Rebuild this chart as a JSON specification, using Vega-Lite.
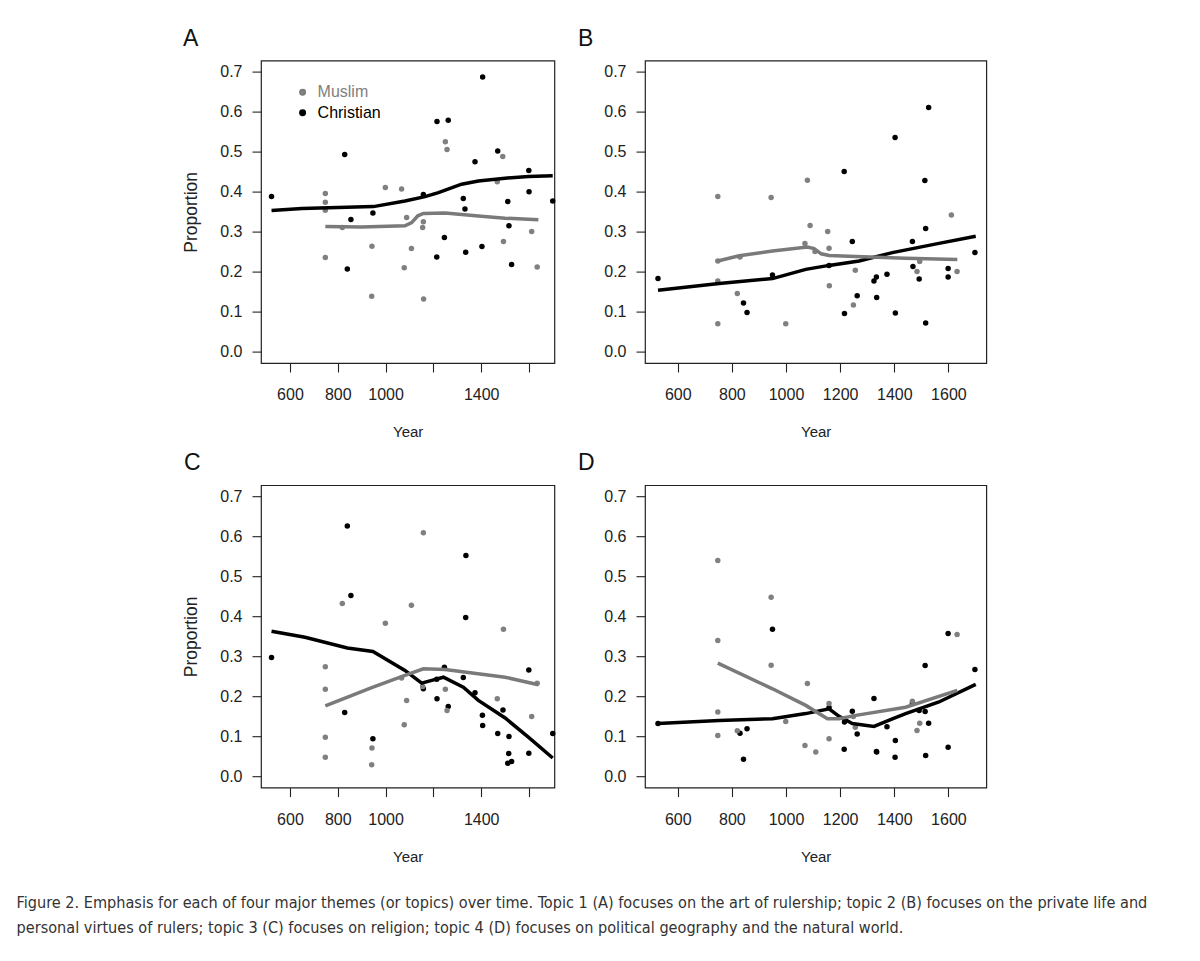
{
  "$schema": "https://vega.github.io/schema/vega-lite/v6.json",
  "background": "white",
  "padding": {"left": 16, "top": 26.6, "right": 10, "bottom": 10},
  "config": {
    "font": "Liberation Sans",
    "view": {"stroke": "#222", "strokeWidth": 1.2},
    "axis": {"domain": false, "grid": false, "tickSize": 9, "tickColor": "#222", "tickWidth": 1.1, "labelFontSize": 16, "labelColor": "#222", "titleFontSize": 15, "titleFontWeight": "normal", "titleColor": "#222", "labelFont": "Liberation Sans", "titleFont": "Liberation Sans"},
    "axisX": {"labelPadding": 14.5, "titlePadding": 22, "labelAngle": 0},
    "axisY": {"labelPadding": 10, "titlePadding": 19.6, "titleFontSize": 17.5},
    "title": {"font": "Liberation Sans", "fontSize": 23, "fontWeight": "normal", "color": "#111", "anchor": "start", "frame": "group", "offset": 9.7, "baseline": "alphabetic"}
  },
  "datasets": {
    "pts": [
      {"p":"A","g":"Christian","year":523,"prop":0.388},{"p":"A","g":"Christian","year":829,"prop":0.493},{"p":"A","g":"Christian","year":840,"prop":0.207},{"p":"A","g":"Christian","year":855,"prop":0.331},{"p":"A","g":"Christian","year":947,"prop":0.347},{"p":"A","g":"Christian","year":1158,"prop":0.393},{"p":"A","g":"Christian","year":1215,"prop":0.576},{"p":"A","g":"Christian","year":1262,"prop":0.579},{"p":"A","g":"Christian","year":1214,"prop":0.237},{"p":"A","g":"Christian","year":1246,"prop":0.286},{"p":"A","g":"Christian","year":1325,"prop":0.383},{"p":"A","g":"Christian","year":1332,"prop":0.357},{"p":"A","g":"Christian","year":1335,"prop":0.249},{"p":"A","g":"Christian","year":1374,"prop":0.475},{"p":"A","g":"Christian","year":1406,"prop":0.687},{"p":"A","g":"Christian","year":1403,"prop":0.263},{"p":"A","g":"Christian","year":1469,"prop":0.502},{"p":"A","g":"Christian","year":1511,"prop":0.376},{"p":"A","g":"Christian","year":1516,"prop":0.315},{"p":"A","g":"Christian","year":1527,"prop":0.218},{"p":"A","g":"Christian","year":1599,"prop":0.453},{"p":"A","g":"Christian","year":1600,"prop":0.4},{"p":"A","g":"Christian","year":1699,"prop":0.377},
      {"p":"A","g":"Muslim","year":748,"prop":0.396},{"p":"A","g":"Muslim","year":748,"prop":0.374},{"p":"A","g":"Muslim","year":748,"prop":0.354},{"p":"A","g":"Muslim","year":748,"prop":0.236},{"p":"A","g":"Muslim","year":819,"prop":0.311},{"p":"A","g":"Muslim","year":943,"prop":0.264},{"p":"A","g":"Muslim","year":942,"prop":0.139},{"p":"A","g":"Muslim","year":999,"prop":0.411},{"p":"A","g":"Muslim","year":1067,"prop":0.407},{"p":"A","g":"Muslim","year":1088,"prop":0.336},{"p":"A","g":"Muslim","year":1078,"prop":0.21},{"p":"A","g":"Muslim","year":1108,"prop":0.258},{"p":"A","g":"Muslim","year":1158,"prop":0.325},{"p":"A","g":"Muslim","year":1155,"prop":0.311},{"p":"A","g":"Muslim","year":1159,"prop":0.132},{"p":"A","g":"Muslim","year":1250,"prop":0.525},{"p":"A","g":"Muslim","year":1257,"prop":0.506},{"p":"A","g":"Muslim","year":1467,"prop":0.425},{"p":"A","g":"Muslim","year":1490,"prop":0.488},{"p":"A","g":"Muslim","year":1493,"prop":0.276},{"p":"A","g":"Muslim","year":1611,"prop":0.301},{"p":"A","g":"Muslim","year":1634,"prop":0.212},

      {"p":"B","g":"Christian","year":527,"prop":0.183},{"p":"B","g":"Christian","year":843,"prop":0.122},{"p":"B","g":"Christian","year":856,"prop":0.098},{"p":"B","g":"Christian","year":950,"prop":0.192},{"p":"B","g":"Christian","year":1159,"prop":0.216},{"p":"B","g":"Christian","year":1215,"prop":0.451},{"p":"B","g":"Christian","year":1245,"prop":0.276},{"p":"B","g":"Christian","year":1216,"prop":0.096},{"p":"B","g":"Christian","year":1263,"prop":0.14},{"p":"B","g":"Christian","year":1325,"prop":0.177},{"p":"B","g":"Christian","year":1334,"prop":0.187},{"p":"B","g":"Christian","year":1335,"prop":0.136},{"p":"B","g":"Christian","year":1373,"prop":0.194},{"p":"B","g":"Christian","year":1403,"prop":0.536},{"p":"B","g":"Christian","year":1404,"prop":0.097},{"p":"B","g":"Christian","year":1467,"prop":0.276},{"p":"B","g":"Christian","year":1469,"prop":0.213},{"p":"B","g":"Christian","year":1492,"prop":0.182},{"p":"B","g":"Christian","year":1513,"prop":0.428},{"p":"B","g":"Christian","year":1516,"prop":0.308},{"p":"B","g":"Christian","year":1527,"prop":0.611},{"p":"B","g":"Christian","year":1516,"prop":0.072},{"p":"B","g":"Christian","year":1599,"prop":0.208},{"p":"B","g":"Christian","year":1599,"prop":0.187},{"p":"B","g":"Christian","year":1698,"prop":0.248},
      {"p":"B","g":"Muslim","year":748,"prop":0.388},{"p":"B","g":"Muslim","year":748,"prop":0.227},{"p":"B","g":"Muslim","year":748,"prop":0.177},{"p":"B","g":"Muslim","year":748,"prop":0.07},{"p":"B","g":"Muslim","year":830,"prop":0.237},{"p":"B","g":"Muslim","year":820,"prop":0.146},{"p":"B","g":"Muslim","year":945,"prop":0.386},{"p":"B","g":"Muslim","year":999,"prop":0.07},{"p":"B","g":"Muslim","year":1079,"prop":0.429},{"p":"B","g":"Muslim","year":1089,"prop":0.316},{"p":"B","g":"Muslim","year":1070,"prop":0.271},{"p":"B","g":"Muslim","year":1107,"prop":0.251},{"p":"B","g":"Muslim","year":1154,"prop":0.301},{"p":"B","g":"Muslim","year":1159,"prop":0.259},{"p":"B","g":"Muslim","year":1160,"prop":0.165},{"p":"B","g":"Muslim","year":1256,"prop":0.204},{"p":"B","g":"Muslim","year":1249,"prop":0.117},{"p":"B","g":"Muslim","year":1484,"prop":0.201},{"p":"B","g":"Muslim","year":1494,"prop":0.226},{"p":"B","g":"Muslim","year":1611,"prop":0.342},{"p":"B","g":"Muslim","year":1632,"prop":0.201},

      {"p":"C","g":"Christian","year":523,"prop":0.297},{"p":"C","g":"Christian","year":840,"prop":0.626},{"p":"C","g":"Christian","year":855,"prop":0.452},{"p":"C","g":"Christian","year":829,"prop":0.16},{"p":"C","g":"Christian","year":947,"prop":0.094},{"p":"C","g":"Christian","year":1158,"prop":0.219},{"p":"C","g":"Christian","year":1214,"prop":0.243},{"p":"C","g":"Christian","year":1215,"prop":0.194},{"p":"C","g":"Christian","year":1246,"prop":0.273},{"p":"C","g":"Christian","year":1262,"prop":0.175},{"p":"C","g":"Christian","year":1336,"prop":0.552},{"p":"C","g":"Christian","year":1335,"prop":0.397},{"p":"C","g":"Christian","year":1325,"prop":0.247},{"p":"C","g":"Christian","year":1374,"prop":0.209},{"p":"C","g":"Christian","year":1405,"prop":0.153},{"p":"C","g":"Christian","year":1406,"prop":0.127},{"p":"C","g":"Christian","year":1469,"prop":0.107},{"p":"C","g":"Christian","year":1491,"prop":0.166},{"p":"C","g":"Christian","year":1516,"prop":0.1},{"p":"C","g":"Christian","year":1515,"prop":0.057},{"p":"C","g":"Christian","year":1511,"prop":0.033},{"p":"C","g":"Christian","year":1527,"prop":0.037},{"p":"C","g":"Christian","year":1599,"prop":0.266},{"p":"C","g":"Christian","year":1599,"prop":0.058},{"p":"C","g":"Christian","year":1699,"prop":0.107},
      {"p":"C","g":"Muslim","year":748,"prop":0.274},{"p":"C","g":"Muslim","year":748,"prop":0.218},{"p":"C","g":"Muslim","year":748,"prop":0.098},{"p":"C","g":"Muslim","year":748,"prop":0.048},{"p":"C","g":"Muslim","year":819,"prop":0.432},{"p":"C","g":"Muslim","year":943,"prop":0.071},{"p":"C","g":"Muslim","year":942,"prop":0.029},{"p":"C","g":"Muslim","year":999,"prop":0.383},{"p":"C","g":"Muslim","year":1067,"prop":0.246},{"p":"C","g":"Muslim","year":1088,"prop":0.19},{"p":"C","g":"Muslim","year":1078,"prop":0.129},{"p":"C","g":"Muslim","year":1108,"prop":0.428},{"p":"C","g":"Muslim","year":1158,"prop":0.609},{"p":"C","g":"Muslim","year":1155,"prop":0.225},{"p":"C","g":"Muslim","year":1250,"prop":0.218},{"p":"C","g":"Muslim","year":1257,"prop":0.165},{"p":"C","g":"Muslim","year":1467,"prop":0.194},{"p":"C","g":"Muslim","year":1493,"prop":0.368},{"p":"C","g":"Muslim","year":1611,"prop":0.15},{"p":"C","g":"Muslim","year":1634,"prop":0.233},

      {"p":"D","g":"Christian","year":527,"prop":0.132},{"p":"D","g":"Christian","year":830,"prop":0.108},{"p":"D","g":"Christian","year":856,"prop":0.119},{"p":"D","g":"Christian","year":843,"prop":0.043},{"p":"D","g":"Christian","year":950,"prop":0.368},{"p":"D","g":"Christian","year":1159,"prop":0.172},{"p":"D","g":"Christian","year":1215,"prop":0.068},{"p":"D","g":"Christian","year":1216,"prop":0.136},{"p":"D","g":"Christian","year":1245,"prop":0.163},{"p":"D","g":"Christian","year":1263,"prop":0.106},{"p":"D","g":"Christian","year":1325,"prop":0.195},{"p":"D","g":"Christian","year":1334,"prop":0.0625},{"p":"D","g":"Christian","year":1335,"prop":0.061},{"p":"D","g":"Christian","year":1373,"prop":0.124},{"p":"D","g":"Christian","year":1404,"prop":0.09},{"p":"D","g":"Christian","year":1403,"prop":0.048},{"p":"D","g":"Christian","year":1467,"prop":0.182},{"p":"D","g":"Christian","year":1492,"prop":0.165},{"p":"D","g":"Christian","year":1514,"prop":0.2775},{"p":"D","g":"Christian","year":1516,"prop":0.0525},{"p":"D","g":"Christian","year":1527,"prop":0.133},{"p":"D","g":"Christian","year":1514,"prop":0.1625},{"p":"D","g":"Christian","year":1599,"prop":0.357},{"p":"D","g":"Christian","year":1599,"prop":0.073},{"p":"D","g":"Christian","year":1698,"prop":0.2675},
      {"p":"D","g":"Muslim","year":748,"prop":0.54},{"p":"D","g":"Muslim","year":748,"prop":0.34},{"p":"D","g":"Muslim","year":748,"prop":0.161},{"p":"D","g":"Muslim","year":748,"prop":0.1025},{"p":"D","g":"Muslim","year":820,"prop":0.114},{"p":"D","g":"Muslim","year":945,"prop":0.448},{"p":"D","g":"Muslim","year":945,"prop":0.278},{"p":"D","g":"Muslim","year":999,"prop":0.137},{"p":"D","g":"Muslim","year":1070,"prop":0.077},{"p":"D","g":"Muslim","year":1079,"prop":0.2325},{"p":"D","g":"Muslim","year":1110,"prop":0.061},{"p":"D","g":"Muslim","year":1159,"prop":0.182},{"p":"D","g":"Muslim","year":1159,"prop":0.094},{"p":"D","g":"Muslim","year":1249,"prop":0.15},{"p":"D","g":"Muslim","year":1256,"prop":0.123},{"p":"D","g":"Muslim","year":1467,"prop":0.188},{"p":"D","g":"Muslim","year":1484,"prop":0.115},{"p":"D","g":"Muslim","year":1494,"prop":0.133},{"p":"D","g":"Muslim","year":1632,"prop":0.355}
    ],
    "lns": [
      {"p":"A","g":"Christian","year":523,"prop":0.353},{"p":"A","g":"Christian","year":650,"prop":0.358},{"p":"A","g":"Christian","year":800,"prop":0.361},{"p":"A","g":"Christian","year":949,"prop":0.363},{"p":"A","g":"Christian","year":1081,"prop":0.377},{"p":"A","g":"Christian","year":1165,"prop":0.388},{"p":"A","g":"Christian","year":1221,"prop":0.398},{"p":"A","g":"Christian","year":1318,"prop":0.419},{"p":"A","g":"Christian","year":1388,"prop":0.427},{"p":"A","g":"Christian","year":1500,"prop":0.434},{"p":"A","g":"Christian","year":1597,"prop":0.438},{"p":"A","g":"Christian","year":1699,"prop":0.44},
      {"p":"A","g":"Muslim","year":748,"prop":0.313},{"p":"A","g":"Muslim","year":900,"prop":0.312},{"p":"A","g":"Muslim","year":1081,"prop":0.315},{"p":"A","g":"Muslim","year":1109,"prop":0.323},{"p":"A","g":"Muslim","year":1135,"prop":0.34},{"p":"A","g":"Muslim","year":1158,"prop":0.346},{"p":"A","g":"Muslim","year":1249,"prop":0.347},{"p":"A","g":"Muslim","year":1400,"prop":0.339},{"p":"A","g":"Muslim","year":1500,"prop":0.334},{"p":"A","g":"Muslim","year":1639,"prop":0.33},
      {"p":"B","g":"Christian","year":527,"prop":0.154},{"p":"B","g":"Christian","year":753,"prop":0.171},{"p":"B","g":"Christian","year":950,"prop":0.183},{"p":"B","g":"Christian","year":1073,"prop":0.206},{"p":"B","g":"Christian","year":1159,"prop":0.216},{"p":"B","g":"Christian","year":1270,"prop":0.227},{"p":"B","g":"Christian","year":1393,"prop":0.248},{"p":"B","g":"Christian","year":1565,"prop":0.271},{"p":"B","g":"Christian","year":1701,"prop":0.289},
      {"p":"B","g":"Muslim","year":748,"prop":0.227},{"p":"B","g":"Muslim","year":827,"prop":0.24},{"p":"B","g":"Muslim","year":950,"prop":0.252},{"p":"B","g":"Muslim","year":1079,"prop":0.262},{"p":"B","g":"Muslim","year":1104,"prop":0.258},{"p":"B","g":"Muslim","year":1130,"prop":0.245},{"p":"B","g":"Muslim","year":1159,"prop":0.241},{"p":"B","g":"Muslim","year":1258,"prop":0.238},{"p":"B","g":"Muslim","year":1442,"prop":0.234},{"p":"B","g":"Muslim","year":1633,"prop":0.231},
      {"p":"C","g":"Christian","year":523,"prop":0.363},{"p":"C","g":"Christian","year":663,"prop":0.348},{"p":"C","g":"Christian","year":840,"prop":0.321},{"p":"C","g":"Christian","year":947,"prop":0.3125},{"p":"C","g":"Christian","year":1081,"prop":0.265},{"p":"C","g":"Christian","year":1151,"prop":0.233},{"p":"C","g":"Christian","year":1193,"prop":0.24},{"p":"C","g":"Christian","year":1242,"prop":0.248},{"p":"C","g":"Christian","year":1325,"prop":0.223},{"p":"C","g":"Christian","year":1388,"prop":0.19},{"p":"C","g":"Christian","year":1500,"prop":0.146},{"p":"C","g":"Christian","year":1597,"prop":0.098},{"p":"C","g":"Christian","year":1699,"prop":0.046},
      {"p":"C","g":"Muslim","year":748,"prop":0.176},{"p":"C","g":"Muslim","year":942,"prop":0.222},{"p":"C","g":"Muslim","year":1081,"prop":0.2525},{"p":"C","g":"Muslim","year":1158,"prop":0.269},{"p":"C","g":"Muslim","year":1249,"prop":0.2675},{"p":"C","g":"Muslim","year":1500,"prop":0.248},{"p":"C","g":"Muslim","year":1639,"prop":0.229},
      {"p":"D","g":"Christian","year":527,"prop":0.132},{"p":"D","g":"Christian","year":753,"prop":0.14},{"p":"D","g":"Christian","year":950,"prop":0.144},{"p":"D","g":"Christian","year":1073,"prop":0.157},{"p":"D","g":"Christian","year":1159,"prop":0.169},{"p":"D","g":"Christian","year":1196,"prop":0.15},{"p":"D","g":"Christian","year":1245,"prop":0.132},{"p":"D","g":"Christian","year":1325,"prop":0.125},{"p":"D","g":"Christian","year":1393,"prop":0.144},{"p":"D","g":"Christian","year":1442,"prop":0.157},{"p":"D","g":"Christian","year":1492,"prop":0.169},{"p":"D","g":"Christian","year":1565,"prop":0.186},{"p":"D","g":"Christian","year":1701,"prop":0.23},
      {"p":"D","g":"Muslim","year":748,"prop":0.283},{"p":"D","g":"Muslim","year":950,"prop":0.219},{"p":"D","g":"Muslim","year":1073,"prop":0.1775},{"p":"D","g":"Muslim","year":1153,"prop":0.144},{"p":"D","g":"Muslim","year":1196,"prop":0.144},{"p":"D","g":"Muslim","year":1258,"prop":0.1525},{"p":"D","g":"Muslim","year":1442,"prop":0.173},{"p":"D","g":"Muslim","year":1633,"prop":0.215}
    ]
  },
  "title": {
    "text": ["Figure 2. Emphasis for each of four major themes (or topics) over time. Topic 1 (A) focuses on the art of rulership; topic 2 (B) focuses on the private life and", "personal virtues of rulers; topic 3 (C) focuses on religion; topic 4 (D) focuses on political geography and the natural world."],
    "orient": "bottom", "anchor": "start", "frame": "bounds", "dx": -165, "offset": 30.5,
    "fontSize": 16.15, "font": "Liberation Sans Narrow, DejaVu Sans Condensed, sans-serif", "fontWeight": "normal",
    "color": "#333", "lineHeight": 25, "baseline": "top"
  },
  "columns": 2,
  "bounds": "flush",
  "spacing": {"row": 121.6, "column": 90},
  "resolve": {"scale": {"color": "independent", "stroke": "independent", "x": "independent", "y": "independent"}, "legend": {"color": "independent", "stroke": "independent"}},
  "concat": [
    {
      "width": 293.4, "height": 302.4,
      "title": {"text": "A", "dx": -78},
      "layer": [
        {"data": {"name": "pts"}, "transform": [{"filter": "datum.p == 'A'"}],
         "mark": {"type": "circle", "size": 30, "opacity": 1},
         "encoding": {
           "x": {"field": "year", "type": "quantitative", "scale": {"domain": [479, 1706], "nice": false, "zero": false}, "axis": {"values": [600, 800, 1000, 1200, 1400, 1600], "format": "d", "labelExpr": "datum.value == 1200 || datum.value == 1600 ? '' : datum.label", "title": "Year"}},
           "y": {"field": "prop", "type": "quantitative", "scale": {"domain": [-0.028, 0.728], "nice": false, "zero": false}, "axis": {"values": [0, 0.1, 0.2, 0.3, 0.4, 0.5, 0.6, 0.7], "format": ".1f", "title": "Proportion"}},
           "color": {"field": "g", "type": "nominal", "scale": {"domain": ["Muslim", "Christian"], "range": ["#808080", "#000000"]},
             "legend": {"title": null, "orient": "none", "legendX": 33.6, "legendY": 23.7, "padding": 0, "symbolType": "circle", "symbolSize": 30, "labelFontSize": 16, "labelFont": "Liberation Sans", "labelOffset": 7, "rowPadding": 4.5, "labelColor": {"expr": "datum.value == 'Muslim' ? '#808080' : '#000000'"}}}
         }},
        {"data": {"name": "lns"}, "transform": [{"filter": "datum.p == 'A'"}],
         "mark": {"type": "line", "strokeWidth": 3.5},
         "encoding": {
           "x": {"field": "year", "type": "quantitative"},
           "y": {"field": "prop", "type": "quantitative"},
           "stroke": {"field": "g", "type": "nominal", "scale": {"domain": ["Muslim", "Christian"], "range": ["#7a7a7a", "#000000"]}, "legend": null}
         }}
      ]
    },
    {
      "width": 341.3, "height": 302.4,
      "title": {"text": "B", "dx": -67},
      "layer": [
        {"data": {"name": "pts"}, "transform": [{"filter": "datum.p == 'B'"}],
         "mark": {"type": "circle", "size": 30, "opacity": 1},
         "encoding": {
           "x": {"field": "year", "type": "quantitative", "scale": {"domain": [479, 1740], "nice": false, "zero": false}, "axis": {"values": [600, 800, 1000, 1200, 1400, 1600], "format": "d", "title": "Year"}},
           "y": {"field": "prop", "type": "quantitative", "scale": {"domain": [-0.028, 0.728], "nice": false, "zero": false}, "axis": {"values": [0, 0.1, 0.2, 0.3, 0.4, 0.5, 0.6, 0.7], "format": ".1f", "title": null}},
           "color": {"field": "g", "type": "nominal", "scale": {"domain": ["Muslim", "Christian"], "range": ["#808080", "#000000"]}, "legend": null}
         }},
        {"data": {"name": "lns"}, "transform": [{"filter": "datum.p == 'B'"}],
         "mark": {"type": "line", "strokeWidth": 3.5},
         "encoding": {
           "x": {"field": "year", "type": "quantitative"},
           "y": {"field": "prop", "type": "quantitative"},
           "stroke": {"field": "g", "type": "nominal", "scale": {"domain": ["Muslim", "Christian"], "range": ["#7a7a7a", "#000000"]}, "legend": null}
         }}
      ]
    },
    {
      "width": 293.4, "height": 302.4,
      "title": {"text": "C", "dx": -77},
      "layer": [
        {"data": {"name": "pts"}, "transform": [{"filter": "datum.p == 'C'"}],
         "mark": {"type": "circle", "size": 30, "opacity": 1},
         "encoding": {
           "x": {"field": "year", "type": "quantitative", "scale": {"domain": [479, 1706], "nice": false, "zero": false}, "axis": {"values": [600, 800, 1000, 1200, 1400, 1600], "format": "d", "labelExpr": "datum.value == 1200 || datum.value == 1600 ? '' : datum.label", "title": "Year"}},
           "y": {"field": "prop", "type": "quantitative", "scale": {"domain": [-0.028, 0.728], "nice": false, "zero": false}, "axis": {"values": [0, 0.1, 0.2, 0.3, 0.4, 0.5, 0.6, 0.7], "format": ".1f", "title": "Proportion"}},
           "color": {"field": "g", "type": "nominal", "scale": {"domain": ["Muslim", "Christian"], "range": ["#808080", "#000000"]}, "legend": null}
         }},
        {"data": {"name": "lns"}, "transform": [{"filter": "datum.p == 'C'"}],
         "mark": {"type": "line", "strokeWidth": 3.5},
         "encoding": {
           "x": {"field": "year", "type": "quantitative"},
           "y": {"field": "prop", "type": "quantitative"},
           "stroke": {"field": "g", "type": "nominal", "scale": {"domain": ["Muslim", "Christian"], "range": ["#7a7a7a", "#000000"]}, "legend": null}
         }}
      ]
    },
    {
      "width": 341.3, "height": 302.4,
      "title": {"text": "D", "dx": -67},
      "layer": [
        {"data": {"name": "pts"}, "transform": [{"filter": "datum.p == 'D'"}],
         "mark": {"type": "circle", "size": 30, "opacity": 1},
         "encoding": {
           "x": {"field": "year", "type": "quantitative", "scale": {"domain": [479, 1740], "nice": false, "zero": false}, "axis": {"values": [600, 800, 1000, 1200, 1400, 1600], "format": "d", "title": "Year"}},
           "y": {"field": "prop", "type": "quantitative", "scale": {"domain": [-0.028, 0.728], "nice": false, "zero": false}, "axis": {"values": [0, 0.1, 0.2, 0.3, 0.4, 0.5, 0.6, 0.7], "format": ".1f", "title": null}},
           "color": {"field": "g", "type": "nominal", "scale": {"domain": ["Muslim", "Christian"], "range": ["#808080", "#000000"]}, "legend": null}
         }},
        {"data": {"name": "lns"}, "transform": [{"filter": "datum.p == 'D'"}],
         "mark": {"type": "line", "strokeWidth": 3.5},
         "encoding": {
           "x": {"field": "year", "type": "quantitative"},
           "y": {"field": "prop", "type": "quantitative"},
           "stroke": {"field": "g", "type": "nominal", "scale": {"domain": ["Muslim", "Christian"], "range": ["#7a7a7a", "#000000"]}, "legend": null}
         }}
      ]
    }
  ]
}
